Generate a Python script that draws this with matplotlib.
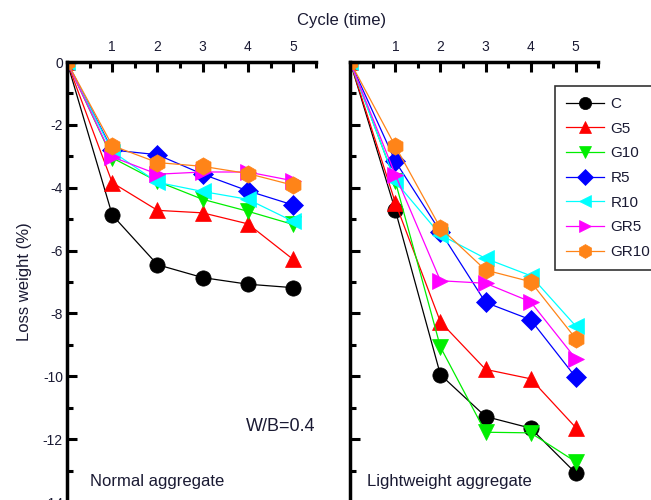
import numpy as np
import matplotlib
matplotlib.use('Agg')
from matplotlib import pyplot as plt
from matplotlib.ticker import MultipleLocator

plt.rcParams['font.family'] = ['Liberation Sans', 'DejaVu Sans']
plt.rcParams['axes.unicode_minus'] = False

cycles = [0, 1, 2, 3, 4, 5]
names = ['C', 'G5', 'G10', 'R5', 'R10', 'GR5', 'GR10']
colors = ['black', 'red', '#00ee00', 'blue', 'cyan', 'magenta', '#ff8418']
markers = ['o', '^', 'v', 'D', '<', '>', 'h']
sizes = [11, 11, 11, 10, 11, 11, 12.5]

# normal aggregate
normal_C = [0, -4.87, -6.45, -6.86, -7.07, -7.18]
normal_G5 = [0, -3.84, -4.72, -4.80, -5.15, -6.28]
normal_G10 = [0, -3.05, -3.80, -4.37, -4.75, -5.17]
normal_R5 = [0, -2.80, -2.95, -3.57, -4.10, -4.55]
normal_R10 = [0, -2.85, -3.83, -4.12, -4.37, -5.07]
normal_GR5 = [0, -3.02, -3.57, -3.50, -3.50, -3.78]
normal_GR10 = [0, -2.66, -3.20, -3.32, -3.55, -3.92]

# lightweight aggregate
light_C = [0, -4.72, -9.95, -11.28, -11.65, -13.08]
light_G5 = [0, -4.48, -8.27, -9.78, -10.08, -11.63]
light_G10 = [0, -3.80, -9.07, -11.78, -11.80, -12.72]
light_R5 = [0, -3.16, -5.40, -7.65, -8.20, -10.03]
light_R10 = [0, -3.80, -5.50, -6.25, -6.80, -8.40]
light_GR5 = [0, -3.59, -6.96, -7.04, -7.63, -9.44]
light_GR10 = [0, -2.68, -5.28, -6.62, -6.99, -8.80]

normal = [normal_C, normal_G5, normal_G10, normal_R5, normal_R10, normal_GR5, normal_GR10]
light = [light_C, light_G5, light_G10, light_R5, light_R10, light_GR5, light_GR10]

txt = '#1a1a33'
fig = plt.figure(figsize=(6.51, 5.0), dpi=100)
ax1 = fig.add_axes([0.103, -0.004, 0.382, 0.88])
ax2 = fig.add_axes([0.538, -0.004, 0.381, 0.88])

for ax, data in [(ax1, normal), (ax2, light)]:
    for vals, nm, c, m, ms in zip(data, names, colors, markers, sizes):
        ax.plot(cycles, vals, color=c, lw=0.9, marker=m, ms=ms,
                mec=c, mew=0.5, label=nm)
    ax.set_xlim(0, 5.5)
    ax.set_ylim(-14, 0)
    ax.xaxis.set_major_locator(MultipleLocator(1))
    ax.xaxis.set_minor_locator(MultipleLocator(0.5))
    ax.yaxis.set_major_locator(MultipleLocator(2))
    ax.yaxis.set_minor_locator(MultipleLocator(1))
    ax.xaxis.tick_top()
    ax.spines['right'].set_visible(False)
    ax.spines['bottom'].set_visible(False)
    ax.spines['left'].set_linewidth(2.5)
    ax.spines['top'].set_linewidth(2.5)
    ax.tick_params(which='major', direction='in', length=7, width=2.2,
                   labelsize=10, labelcolor=txt, top=True, bottom=False,
                   left=True, right=False, pad=3)
    ax.tick_params(which='minor', direction='in', length=4, width=2.2,
                   top=True, bottom=False, left=True, right=False)
    ax.set_xticks([1, 2, 3, 4, 5])
    ax.set_xticklabels(['1', '2', '3', '4', '5'])
    ax.xaxis.set_tick_params(pad=6)

ax2.set_yticklabels([])
ax1.set_ylabel('Loss weight (%)', fontsize=12, color=txt, labelpad=8)
fig.text(0.524, 0.958, 'Cycle (time)', fontsize=12, color=txt, ha='center', va='center')

ax1.text(3.95, -11.75, 'W/B=0.4', fontsize=13, color=txt)
ax1.text(0.5, -13.5, 'Normal aggregate', fontsize=12, color=txt)
ax2.text(0.38, -13.5, 'Lightweight aggregate', fontsize=12, color=txt)

leg = ax2.legend(loc='upper left', bbox_to_anchor=(0.827, 0.945), frameon=True,
                 fancybox=False, edgecolor='black', fontsize=11,
                 handlelength=2.5, handletextpad=0.4, labelspacing=0.7,
                 borderpad=0.7, borderaxespad=0, markerscale=0.8)
leg.get_frame().set_linewidth(1.2)
for t in leg.get_texts():
    t.set_color(txt)

fig.savefig('out.png', dpi=100)
